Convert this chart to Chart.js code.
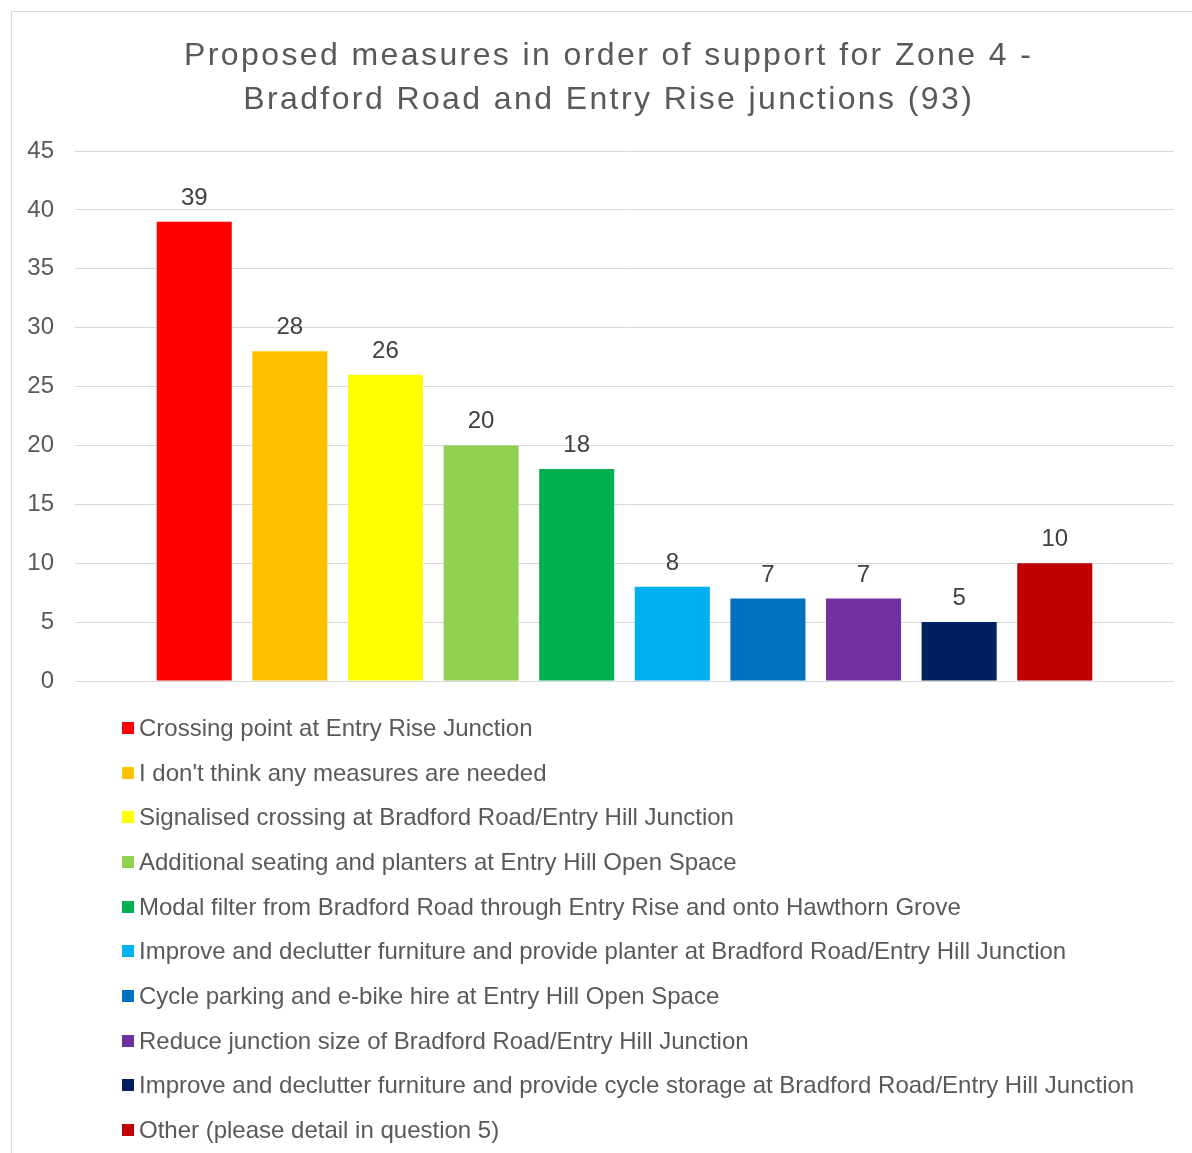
<!DOCTYPE html>
<html>
<head>
<meta charset="utf-8">
<title>Proposed measures – Zone 4</title>
<script src="https://cdn.jsdelivr.net/npm/chart.js@4.4.0/dist/chart.umd.min.js"></script>
<style>
  html, body { margin: 0; padding: 0; background: #ffffff; overflow: hidden; width: 1192px; height: 1153px; }
  #frame { position: absolute; left: 11px; top: 11px; width: 1220px; height: 1180px;
           border-left: 1px solid #d9d9d9; border-top: 1px solid #d9d9d9; box-sizing: border-box; }
  #chart { position: absolute; left: 0; top: 0; }
  #legend { position: absolute; left: 122px; top: 705.7px;
            font-family: "Liberation Sans", Arial, sans-serif; font-size: 24px; color: #595959; }
  .item { height: 44.67px; display: flex; align-items: center; white-space: nowrap; }
  .swatch { width: 12px; height: 12px; margin-right: 5px; flex: none; }
</style>
</head>
<body>
<div id="frame"></div>
<canvas id="chart" width="1192" height="1153"></canvas>
<div id="legend"></div>
<script>
// Chart title, one entry per line
const titleLines = [
  'Proposed measures in order of support for Zone 4 -',
  'Bradford Road and Entry Rise junctions (93)'
];

// Proposed measures (series), in order of support
const measures = [
  'Crossing point at Entry Rise Junction',
  "I don't think any measures are needed",
  'Signalised crossing at Bradford Road/Entry Hill Junction',
  'Additional seating and planters at Entry Hill Open Space',
  'Modal filter from Bradford Road through Entry Rise and onto Hawthorn Grove',
  'Improve and declutter furniture and provide planter at Bradford Road/Entry Hill Junction',
  'Cycle parking and e-bike hire at Entry Hill Open Space',
  'Reduce junction size of Bradford Road/Entry Hill Junction',
  'Improve and declutter furniture and provide cycle storage at Bradford Road/Entry Hill Junction',
  'Other (please detail in question 5)'
];

// Number of respondents supporting each measure
const responses = [39, 28, 26, 20, 18, 8, 7, 7, 5, 10];

const barColours = [
  '#FF0000', '#FFC000', '#FFFF00', '#92D050', '#00B050',
  '#00B0F0', '#0070C0', '#7030A0', '#002060', '#C00000'
];

// Value axis range and tick step
const yMin = 0;
const yMax = 45;
const yStep = 5;

const FONT = '"Liberation Sans", Arial, sans-serif';

// Two-line heading drawn with Office-style character spacing
const headline = {
  id: 'headline',
  afterDraw(chart) {
    const ctx = chart.ctx;
    ctx.save();
    ctx.font = '32px ' + FONT;
    ctx.fillStyle = '#595959';
    ctx.textAlign = 'center';
    ctx.textBaseline = 'alphabetic';
    ctx.letterSpacing = '2.4px';
    const cx = 607.5 + 1.2;
    titleLines.forEach((line, i) => ctx.fillText(line, cx, 64.5 + i * 44.7));
    ctx.restore();
  }
};

// Value printed above each bar
const valueLabels = {
  id: 'valueLabels',
  afterDatasetsDraw(chart) {
    const ctx = chart.ctx;
    ctx.save();
    ctx.font = '24px ' + FONT;
    ctx.fillStyle = '#404040';
    ctx.textAlign = 'center';
    ctx.textBaseline = 'alphabetic';
    chart.data.datasets.forEach((ds, i) => {
      chart.getDatasetMeta(i).data.forEach((bar, j) => {
        ctx.fillText(String(ds.data[j]), bar.x, bar.y - 17);
      });
    });
    ctx.restore();
  }
};

new Chart(document.getElementById('chart'), {
  type: 'bar',
  data: {
    labels: [''],
    datasets: measures.map((name, i) => ({
      label: name,
      data: [responses[i]],
      backgroundColor: barColours[i],
      borderWidth: 0,
      categoryPercentage: 0.87,
      barPercentage: 0.785
    }))
  },
  options: {
    responsive: false,
    animation: false,
    layout: { padding: { left: 12, right: 18, top: 151, bottom: 472 } },
    plugins: {
      legend: { display: false },
      title: { display: false },
      tooltip: { enabled: false }
    },
    scales: {
      x: { display: false },
      y: {
        min: yMin,
        max: yMax,
        ticks: { stepSize: yStep, padding: 21, color: '#595959', font: { family: FONT, size: 24 } },
        grid: { color: '#d9d9d9', lineWidth: 1, drawTicks: false },
        border: { display: false },
        afterFit(scale) { scale.width = 63; }
      }
    }
  },
  plugins: [headline, valueLabels]
});

// Legend: one measure per row with its colour swatch
const legend = document.getElementById('legend');
measures.forEach((name, i) => {
  const row = document.createElement('div');
  row.className = 'item';
  const sw = document.createElement('span');
  sw.className = 'swatch';
  sw.style.background = barColours[i];
  const txt = document.createElement('span');
  txt.textContent = name;
  row.appendChild(sw);
  row.appendChild(txt);
  legend.appendChild(row);
});
</script>
</body>
</html>
